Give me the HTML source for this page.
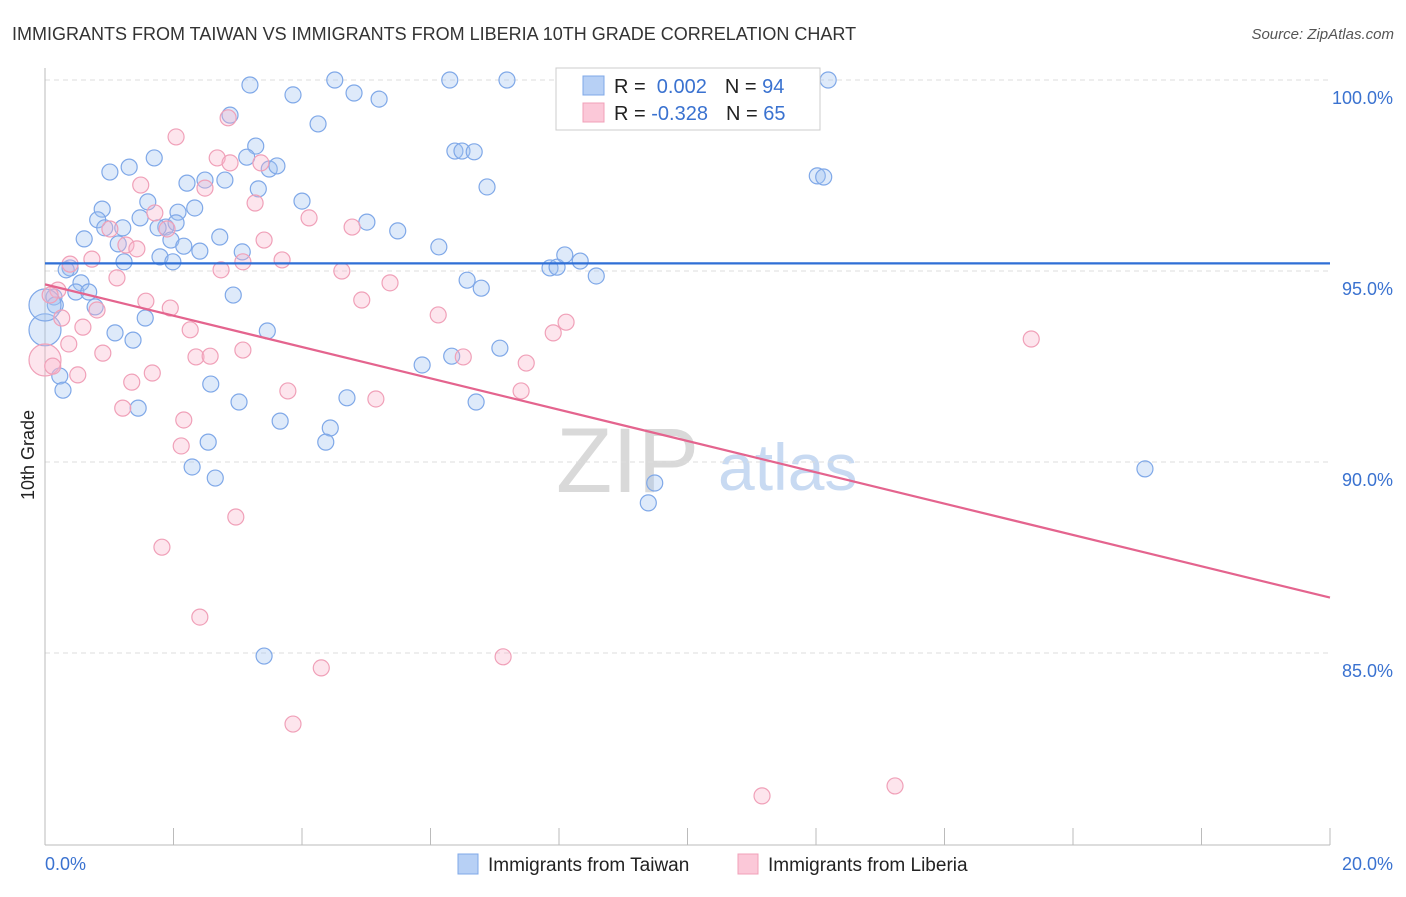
<!DOCTYPE html>
<html><head><meta charset="utf-8"><style>
body{margin:0;background:#fff;font-family:"Liberation Sans",sans-serif}
svg text{font-family:"Liberation Sans",sans-serif}
</style></head><body>
<svg width="1406" height="892" xmlns="http://www.w3.org/2000/svg" id="chart">
<text x="12" y="40" font-size="18" fill="#333">IMMIGRANTS FROM TAIWAN VS IMMIGRANTS FROM LIBERIA 10TH GRADE CORRELATION CHART</text>
<text x="1394" y="39" font-size="15" fill="#555" font-style="italic" text-anchor="end">Source: ZipAtlas.com</text>
<text x="556" y="492" font-size="92" fill="#d9d9d9" font-family="Liberation Serif,serif">ZIP</text>
<text x="718" y="490" font-size="66" fill="#c8daf2">atlas</text>
<g id="grid"></g><g id="axes"></g><g id="pts"></g><g id="lines"></g>
<text transform="translate(34,455) rotate(-90)" font-size="18" fill="#222" text-anchor="middle">10th Grade</text>
<g>
<rect x="556" y="68" width="264" height="62" fill="#fff" stroke="#ccc"/>
<rect x="583" y="76" width="21" height="19" fill="#b7d0f5" stroke="#7fa8e8"/>
<rect x="583" y="103" width="21" height="19" fill="#fbc8d8" stroke="#f0a0b8"/>
<text x="614" y="93" font-size="20" fill="#222">R = <tspan fill="#3a72d0">&#160;0.002</tspan><tspan dx="18">N = </tspan><tspan fill="#3a72d0">94</tspan></text>
<text x="614" y="120" font-size="20" fill="#222">R = <tspan fill="#3a72d0">-0.328</tspan><tspan dx="18">N = </tspan><tspan fill="#3a72d0">65</tspan></text>
</g>
<g>
<rect x="458" y="854" width="20" height="20" fill="#b7d0f5" stroke="#7fa8e8"/>
<text x="488" y="871" font-size="19" fill="#222">Immigrants from Taiwan</text>
<rect x="738" y="854" width="20" height="20" fill="#fbc8d8" stroke="#f0a0b8"/>
<text x="768" y="871" font-size="19" fill="#222">Immigrants from Liberia</text>
</g>
</svg>
<script>
const yTicks=[100,95,90,85];
const yTickLabels=["100.0%","95.0%","90.0%","85.0%"];
const xTickCount=10;
const xTickLabels=["0.0%","20.0%"];
const taiwanX=[3.19,4.51,6.30,7.19,12.19,3.86,4.81,5.20,2.88,4.25,3.28,3.14,1.70,1.31,1.01,3.49,3.61,2.21,2.49,2.80,3.32,6.88,6.38,6.49,6.68,1.60,0.89,2.33,2.07,4.00,0.82,1.48,5.01,5.49,1.21,0.93,0.61,1.88,2.04,1.76,1.96,2.72,1.14,2.16,2.41,3.07,1.79,1.99,1.23,0.39,0.33,0.56,0.48,0.68,0.14,0.16,0.78,2.93,6.13,6.57,6.79,7.86,7.97,8.09,8.33,8.58,12.02,12.12,1.56,1.09,1.37,3.46,7.08,5.87,6.33,0.23,0.28,2.58,1.45,3.02,4.70,6.71,3.66,4.44,4.37,2.54,2.29,2.65,9.49,9.39,17.12,3.41,0,0];
const taiwanY=[99.87,100,100,100,100,99.61,99.66,99.50,99.08,98.85,98.27,97.98,97.96,97.72,97.59,97.67,97.75,97.30,97.38,97.38,97.15,97.20,98.14,98.14,98.12,96.81,96.62,96.65,96.54,96.83,96.34,96.39,96.28,96.05,96.13,96.13,95.84,96.15,96.26,96.13,95.81,95.89,95.71,95.65,95.52,95.50,95.37,95.24,95.24,95.08,95.03,94.69,94.45,94.45,94.32,94.11,94.06,94.37,95.63,94.76,94.55,95.08,95.10,95.42,95.26,94.87,97.49,97.46,93.77,93.38,93.19,93.43,92.98,92.54,92.77,92.25,91.88,92.04,91.41,91.57,91.68,91.57,91.07,90.89,90.52,90.52,89.87,89.58,89.45,88.93,89.82,84.92,93.46,94.11];
const liberiaX=[9.39,2.04,2.85,2.68,2.88,3.36,1.49,2.49,3.27,1.71,4.11,4.78,1.01,1.90,1.26,1.43,3.41,0.73,0.39,2.74,3.08,3.69,4.62,5.37,1.12,0.20,0.08,1.57,1.95,0.81,0.26,4.93,6.12,8.11,7.91,0.59,2.26,0.37,0.90,3.08,2.35,2.57,6.51,7.49,0,0.12,0.51,1.67,1.35,3.78,5.15,7.41,1.21,2.16,2.12,2.97,1.82,2.41,4.30,7.13,3.86,15.35,11.16,13.23];
const liberiaY=[100,98.51,99.01,97.96,97.83,97.83,97.25,97.17,96.78,96.52,96.39,96.15,96.10,96.10,95.68,95.58,95.81,95.31,95.18,95.03,95.24,95.29,95.00,94.69,94.82,94.50,94.37,94.21,94.03,93.98,93.77,94.24,93.85,93.66,93.38,93.53,93.46,93.09,92.85,92.93,92.75,92.77,92.75,92.59,92.67,92.51,92.28,92.33,92.09,91.86,91.65,91.86,91.41,91.10,90.42,88.56,87.77,85.94,84.61,84.90,83.14,93.22,81.26,81.52];
const taiwanTrend=[95.2,95.2];
const liberiaTrend=[94.65,86.45];
const X0=45,X1=1330,XMAX=20;
const sx=v=>X0+v/XMAX*(X1-X0);
const sy=v=>80+(100-v)*38.2;
const NS="http://www.w3.org/2000/svg";
function mk(tag,attrs,parent){const e=document.createElementNS(NS,tag);for(const k in attrs)e.setAttribute(k,attrs[k]);document.getElementById(parent).appendChild(e);return e;}
yTicks.forEach((t,i)=>{
 const l=mk('line',{x1:X0,x2:X1,y1:sy(t),y2:sy(t),stroke:'#ddd','stroke-dasharray':'5,4'},'grid');
 
 
 const tx=mk('text',{x:1393,y:sy(t)+24,'font-size':18,fill:'#3a72d0','text-anchor':'end'},'axes');
 tx.textContent=yTickLabels[i];
 
 
});
const ax=mk('line',{x1:X0,x2:X1,y1:845,y2:845,stroke:'#bbb'},'axes');


const ay=mk('line',{x1:X0,x2:X0,y1:68,y2:845,stroke:'#bbb'},'axes');


for(let i=0;i<=xTickCount;i++){
 const v=XMAX*i/xTickCount;
 const t=mk('line',{x1:sx(v),x2:sx(v),y1:828,y2:845,stroke:'#bbb'},'axes');
 
 
}
[[0,'start',45],[XMAX,'end',1393]].forEach((d,i)=>{
 const t=mk('text',{x:d[2],y:870,'font-size':18,fill:'#3a72d0','text-anchor':d[1]},'axes');
 t.textContent=xTickLabels[i];
 
 
});
function pts(xs,ys,fill,stroke,name){
 xs.forEach((x,i)=>{
  const big=x===0;
  const c=mk('circle',{cx:sx(x),cy:sy(ys[i]),r:big?16:8,fill:fill,stroke:stroke,'stroke-width':1.2},'pts');
  
  
 });
}
pts(taiwanX,taiwanY,'rgba(160,195,240,0.35)','#7fa8e8','taiwan-point');
pts(liberiaX,liberiaY,'rgba(248,180,202,0.35)','#f0a0b8','liberia-point');
const l1=mk('line',{x1:sx(0),x2:sx(XMAX),y1:sy(taiwanTrend[0]),y2:sy(taiwanTrend[1]),stroke:'#2f6fd6','stroke-width':2.2},'lines');


const l2=mk('line',{x1:sx(0),x2:sx(XMAX),y1:sy(liberiaTrend[0]),y2:sy(liberiaTrend[1]),stroke:'#e4648e','stroke-width':2.2},'lines');


</script>
</body></html>
